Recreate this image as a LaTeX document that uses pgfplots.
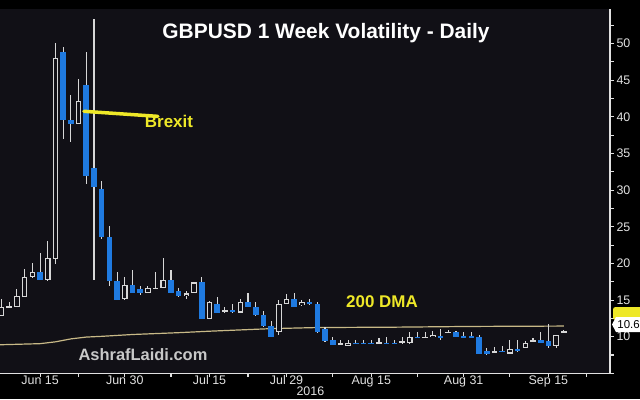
\documentclass[border=0pt]{standalone}
\usepackage{pgfplots}
\pgfplotsset{compat=1.18}
\usepackage{pgfplotstable}
\usepackage{fontspec}
\setmainfont{Liberation Sans}
\definecolor{bg}{RGB}{17,16,22}
\definecolor{candleblue}{RGB}{31,122,224}
\definecolor{wickc}{RGB}{215,215,215}
\definecolor{dma}{RGB}{200,185,135}
\definecolor{annot}{RGB}{238,232,40}
\definecolor{axisc}{RGB}{225,225,225}

% up candles: x open high low close
\pgfplotstableread{
x o h l c
-5 12.8 15.1 12.8 14.1
-4 14.0 14.8 13.9 14.2
-3 14.1 16.5 14.0 15.5
-2 15.4 19.3 15.4 18.1
-1 18.1 20.0 18.0 18.8
1 17.7 23.0 17.6 20.7
2 20.6 50.0 19.9 48.0
5 39.0 45.2 39.0 42.2
11 15.1 18.1 15.0 17.1
14 15.9 16.9 15.9 16.6
15 16.5 18.8 16.5 16.7
16 16.6 20.7 16.6 17.8
19 15.5 16.3 15.2 15.9
20 15.9 17.5 15.9 17.4
22 12.4 14.9 12.4 14.7
24 13.4 14.0 13.3 13.6
26 13.3 15.2 13.3 14.8
31 10.6 15.0 10.3 14.5
32 14.5 15.8 14.4 15.2
34 14.3 15.0 14.2 14.7
39 9.0 9.6 9.0 9.1
40 8.7 9.6 8.7 9.2
44 9.1 9.8 9.1 9.25
47 9.1 10.0 9.0 9.4
48 9.1 10.7 9.0 10.0
50 9.85 10.6 9.85 9.95
51 9.9 10.8 9.9 10.3
53 10.55 10.9 10.5 10.65
59 7.85 8.6 7.8 7.95
61 7.7 9.6 7.7 8.3
63 8.5 9.4 8.5 9.2
64 9.35 9.8 9.3 9.45
67 8.7 10.3 8.4 10.2
68 10.55 10.9 10.5 10.75
}\upc

% down candles: x open high low close
\pgfplotstableread{
x o h l c
0 18.8 21.4 17.7 17.7
3 48.8 49.5 37.0 39.5
4 39.5 43.0 36.5 39.0
6 44.4 48.9 30.9 31.9
7 33.0 53.4 17.7 30.4
8 30.1 31.2 23.3 23.6
9 23.6 25.1 16.9 17.6
10 17.6 18.8 15.0 15.0
12 17.0 19.1 15.9 16.0
13 16.5 16.9 15.7 15.9
17 17.8 19.1 16.0 16.0
18 16.2 16.7 15.4 15.5
21 17.4 18.2 12.4 12.4
23 14.5 15.4 13.3 13.3
25 13.6 14.5 13.3 13.4
27 14.8 15.9 14.0 14.1
28 14.1 14.8 12.8 12.9
29 12.9 13.5 11.3 11.4
30 11.4 12.2 10.0 10.0
33 15.2 15.9 14.0 14.1
35 14.7 15.1 14.3 14.4
36 14.4 14.7 10.5 10.6
37 11.1 11.3 9.3 9.4
38 9.5 10.0 8.8 8.8
41 9.15 9.6 9.0 9.05
42 9.15 9.5 9.0 9.05
43 9.15 9.6 9.0 9.05
45 9.15 9.9 9.0 9.0
46 9.15 9.6 9.0 9.05
49 10.0 10.7 9.8 9.8
52 10.05 11.1 9.6 9.95
54 10.6 10.8 9.9 9.9
55 10.05 10.6 9.9 9.95
56 10.05 10.6 9.9 9.95
57 10.0 10.3 7.6 7.6
58 8.1 8.5 7.5 7.6
60 8.05 8.7 7.9 7.95
62 8.3 9.6 7.9 8.0
65 9.6 10.6 9.2 9.2
66 9.4 11.7 8.5 8.7
}\downc

% 200 DMA
\pgfplotstableread{
x y
-5.2 8.9
0 9.05
2 9.3
4 9.7
6 9.95
8 10.05
12 10.3
18 10.55
22 10.75
30 11.1
36 11.25
46 11.3
56 11.4
68 11.45
}\dmatab

\pgfplotsset{candle/.style={draw=none, mark=none, forget plot,
  error bars/.cd, y dir=both, y explicit, error mark=none}}

\begin{document}
\begin{tikzpicture}[x=1bp,y=1bp]
\fill[black] (0,0) rectangle (640,399);
\begin{axis}[
  at={(0,35)}, anchor=south west,
  scale only axis, width=610bp, height=364bp,
  xmin=-5.2, xmax=74, ymin=5, ymax=54.66,
  axis background/.style={fill=bg},
  axis x line*=bottom, axis y line*=right,
  axis line style={axisc, line width=1.3bp},
  xtick={0,11,22,32,43,55,66},
  xticklabels={Jun 15,Jun 30,Jul 15,Jul 29,Aug 15,Aug 31,Sep 15},
  minor xtick={5,17,27,38,49,61,71},
  ytick={10,15,...,50},
  extra y ticks={5}, extra y tick labels={},
  minor ytick={7.5,12.5,...,52.5},
  tick align=outside,
  major tick length=4bp, minor tick length=3.5bp,
  tick style={axisc, line width=1.1bp},
  /pgf/number format/assume math mode=true,
  xticklabel style={font=\fontsize{12.5}{14}\selectfont, text=axisc, yshift=5bp},
  yticklabel style={font=\fontsize{12.5}{14}\selectfont, text=axisc, xshift=-1bp},
  clip=true,
]
% 200 DMA
\addplot[dma, line width=1.2bp, mark=none] table[x=x,y=y] {\dmatab};
% wicks
\addplot[candle, error bar style={draw=wickc, line width=1.1bp}]
  table[x=x, y expr=(\thisrow{h}+\thisrow{l})/2, y error expr=(\thisrow{h}-\thisrow{l})/2] {\upc};
\addplot[candle, error bar style={draw=wickc, line width=1.1bp}]
  table[x=x, y expr=(\thisrow{h}+\thisrow{l})/2, y error expr=(\thisrow{h}-\thisrow{l})/2] {\downc};
% down bodies
\addplot[candle, error bar style={draw=candleblue, line width=5.6bp}]
  table[x=x, y expr=(\thisrow{o}+\thisrow{c})/2, y error expr={max(abs(\thisrow{o}-\thisrow{c})/2,0.1)}] {\downc};
% up bodies (outline + dark interior)
\addplot[candle, error bar style={draw=wickc, line width=5.6bp}]
  table[x=x, y expr=(\thisrow{o}+\thisrow{c})/2, y error expr={max(abs(\thisrow{o}-\thisrow{c})/2,0.1)}] {\upc};
\addplot[candle, error bar style={draw=bg, line width=3.4bp}]
  table[x=x, y expr=(\thisrow{o}+\thisrow{c})/2, y error expr={max(abs(\thisrow{o}-\thisrow{c})/2-0.15,0)}] {\upc};
% Brexit annotation line
\draw[annot, line width=3.5bp, line cap=round] (axis cs:5.7,40.75) -- (axis cs:15.3,40.06);
\end{axis}
% texts
\node[anchor=base, text=white, font=\fontsize{21}{25}\selectfont\bfseries] at (326,361) {GBPUSD 1 Week Volatility - Daily};
\node[anchor=base, text=annot, font=\fontsize{17}{20}\selectfont\bfseries] at (169,272) {Brexit};
\node[anchor=base, text=annot, font=\fontsize{17}{20}\selectfont\bfseries] at (382,92) {200 DMA};
\node[anchor=base, text={rgb,255:red,200;green,200;blue,200}, font=\fontsize{16.5}{20}\selectfont\bfseries] at (143,39) {AshrafLaidi.com};
\node[anchor=base west, text=axisc, font=\fontsize{12.5}{14}\selectfont] at (293,4) {2016};
% right-side value labels
\fill[annot, rounded corners=2.5bp] (613,79) rectangle (645,92);
\fill[white] (612,74.5) -- (616,82) -- (645,82) -- (645,67) -- (616,67) -- cycle;
\node[anchor=base west, inner sep=0pt, text=black, font=\fontsize{11.5}{13}\selectfont] at (617.2,70.3) {10.6};
\pgfresetboundingbox
\path (0,0) rectangle (640,399);
\end{tikzpicture}
\end{document}
